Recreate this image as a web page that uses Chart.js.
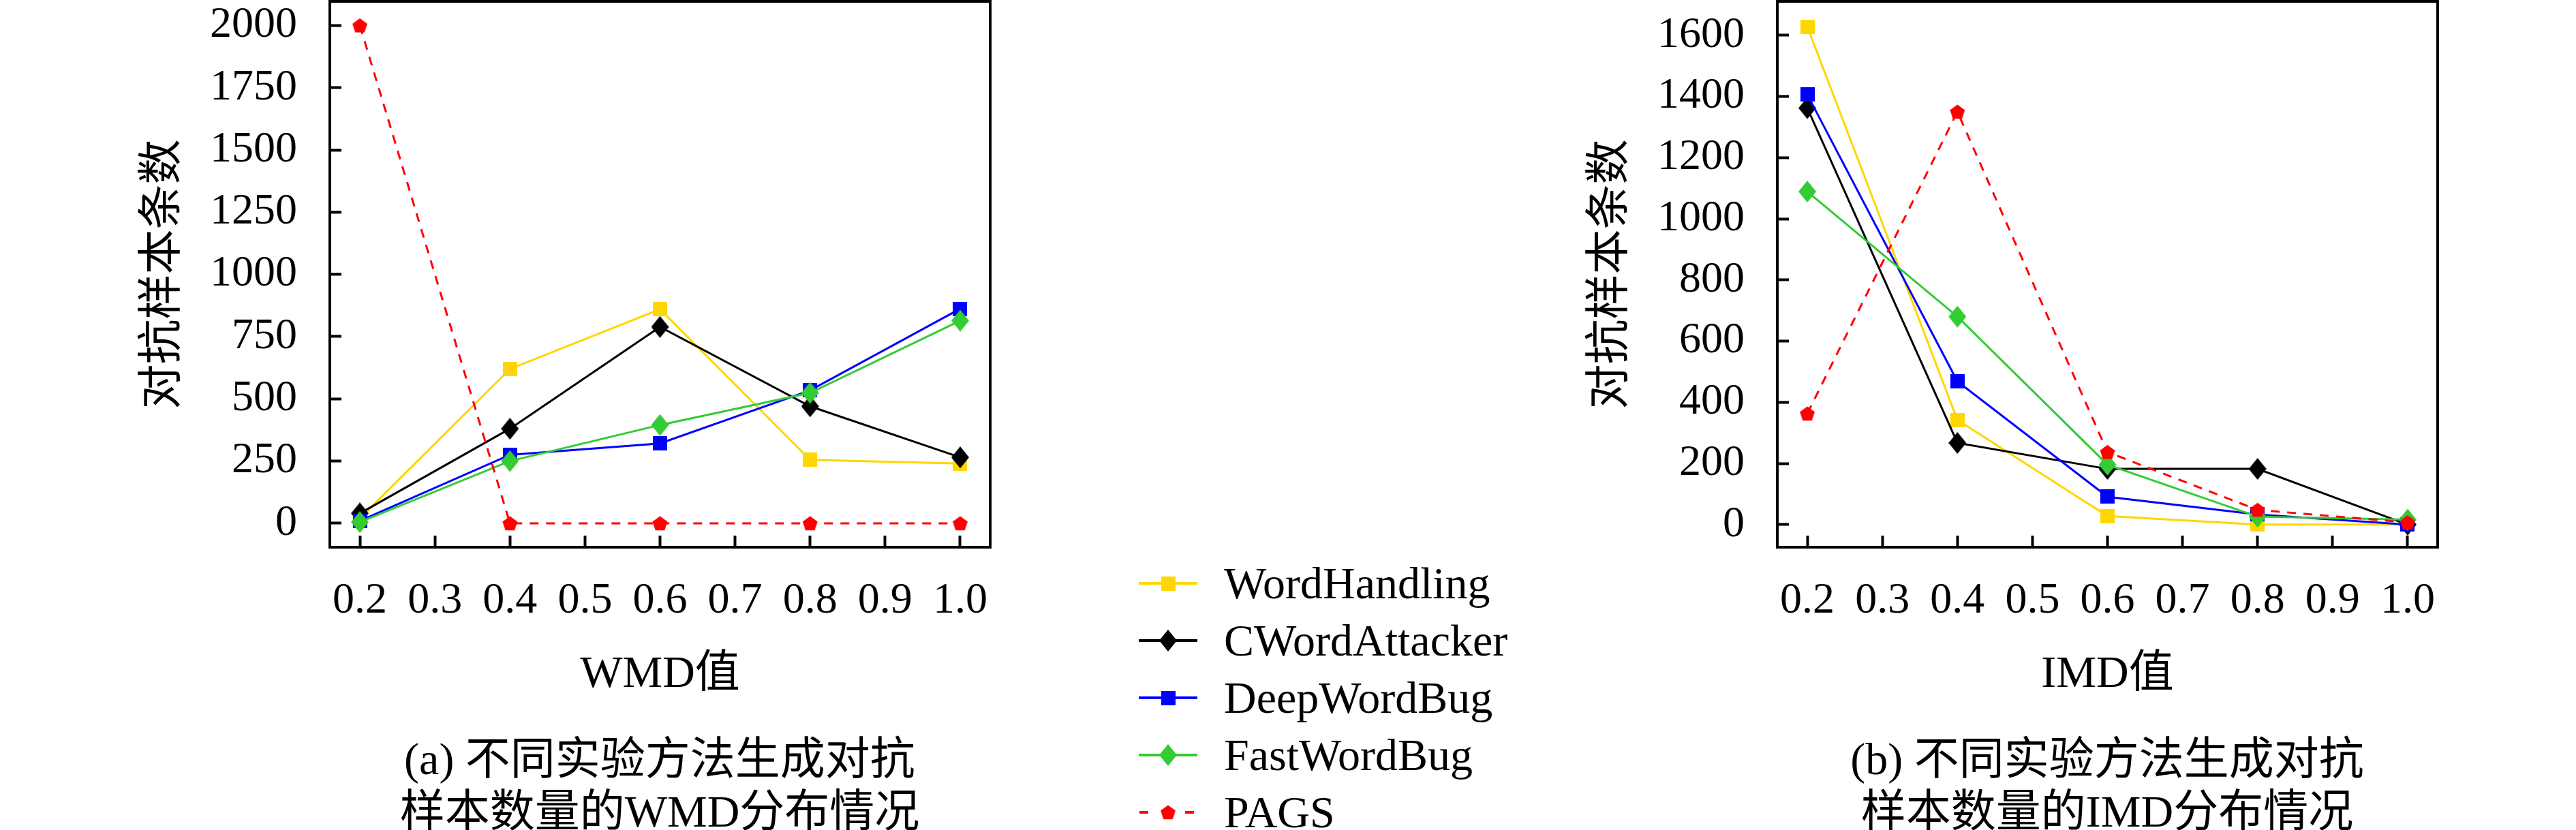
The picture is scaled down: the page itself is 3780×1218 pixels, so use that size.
<!DOCTYPE html>
<html><head><meta charset="utf-8">
<script src="https://cdn.jsdelivr.net/npm/chart.js@4.4.1/dist/chart.umd.min.js"></script>
<style>
html,body{margin:0;padding:0;background:#fff;}
body{width:3780px;height:1218px;position:relative;overflow:hidden;font-family:'Liberation Serif','Noto Sans CJK SC',serif;color:#000;}
.plot{position:absolute;top:0;}
.cap{position:absolute;width:1200px;text-align:center;font-size:66px;line-height:77px;white-space:nowrap;}
.leg{position:absolute;left:1669px;height:66px;width:700px;}
.leg canvas{position:absolute;left:0;top:15px;}
.leg span{position:absolute;left:127px;top:0;font-size:66px;line-height:66px;white-space:nowrap;}
</style></head>
<body>
<canvas id="cA" class="plot" width="1500" height="1060" style="left:0px"></canvas>
<canvas id="cB" class="plot" width="1500" height="1060" style="left:2124px"></canvas>
<div class="cap" lang="zh-CN" style="left:368px;top:1075px">(a) 不同实验方法生成对抗<br>样本数量的WMD分布情况</div>
<div class="cap" lang="zh-CN" style="left:2492px;top:1075px">(b) 不同实验方法生成对抗<br>样本数量的IMD分布情况</div>
<div id="legend"></div>
<script>
// ---------- data ----------
const xValues = [0.2, 0.4, 0.6, 0.8, 1.0];
const xTickValues = [0.2, 0.3, 0.4, 0.5, 0.6, 0.7, 0.8, 0.9, 1.0];
const yTicksWMD = [0, 250, 500, 750, 1000, 1250, 1500, 1750, 2000];
const yTicksIMD = [0, 200, 400, 600, 800, 1000, 1200, 1400, 1600];
const seriesNames = ['WordHandling', 'CWordAttacker', 'DeepWordBug', 'FastWordBug', 'PAGS'];

const wordHandlingWMD  = [20, 620, 860, 255, 240];
const cWordAttackerWMD = [40, 380, 789, 470, 265];
const deepWordBugWMD   = [10, 275, 321, 534, 862];
const fastWordBugWMD   = [5, 250, 395, 524, 814];
const pagsWMD          = [2000, 0, 0, 0, 0];

const wordHandlingIMD  = [1628, 342, 28, 0, 0];
const cWordAttackerIMD = [1362, 267, 182, 182, 0];
const deepWordBugIMD   = [1406, 468, 91, 33, 0];
const fastWordBugIMD   = [1089, 680, 196, 26, 16];
const pagsIMD          = [363, 1350, 237, 48, 7];

const xTitleWMD = 'WMD值';
const xTitleIMD = 'IMD值';
const yTitle = '对抗样本条数';

// ---------- styles ----------
const colors = ['#FFD700', '#000000', '#0000FF', '#33CC33', '#FF0000'];
const shapes = ['square', 'diamond', 'square', 'diamond', 'pentagon'];
const dashes = [[], [], [], [], [13, 11]];
const FAMILY = "'Liberation Serif', 'Noto Sans CJK SC', serif";

function makeMarker(shape, color) {
  const c = document.createElement('canvas');
  let w, h;
  if (shape === 'square') { w = 21; h = 21; }
  else if (shape === 'diamond') { w = 26; h = 32; }
  else { w = 23; h = 22; }
  c.width = w; c.height = h;
  const g = c.getContext('2d');
  g.fillStyle = color;
  g.beginPath();
  if (shape === 'square') g.rect(0, 0, w, h);
  else if (shape === 'diamond') { g.moveTo(w / 2, 0); g.lineTo(w, h / 2); g.lineTo(w / 2, h); g.lineTo(0, h / 2); }
  else {
    const R = 11.5, cx = w / 2, cy = 12;
    for (let i = 0; i < 5; i++) {
      const a = -Math.PI / 2 + i * 2 * Math.PI / 5;
      g.lineTo(cx + R * Math.cos(a), cy + R * Math.sin(a));
    }
  }
  g.closePath();
  g.fill();
  return c;
}
const markers = shapes.map((s, i) => makeMarker(s, colors[i]));

// ---------- legend ----------
const legend = document.getElementById('legend');
seriesNames.forEach((name, i) => {
  const row = document.createElement('div');
  row.className = 'leg';
  row.style.top = (856 + i * 84 - 33) + 'px';
  const ic = document.createElement('canvas');
  ic.width = 90; ic.height = 36;
  const g = ic.getContext('2d');
  g.strokeStyle = colors[i]; g.lineWidth = 4;
  g.beginPath();
  if (dashes[i].length) {
    g.moveTo(3, 18); g.lineTo(16, 18);
    g.moveTo(70, 18); g.lineTo(83, 18);
  } else {
    g.moveTo(2, 18); g.lineTo(88, 18);
  }
  g.stroke();
  const m = markers[i];
  g.drawImage(m, 45 - m.width / 2, 18 - m.height / 2);
  row.appendChild(ic);
  const sp = document.createElement('span');
  sp.textContent = name;
  row.appendChild(sp);
  legend.appendChild(row);
});

// ---------- charts ----------
const frame = {
  id: 'frame',
  afterDatasetsDraw(chart) {
    const { ctx, chartArea: a } = chart;
    ctx.save();
    ctx.strokeStyle = '#000';
    ctx.lineWidth = 4;
    ctx.strokeRect(a.left, a.top, a.right - a.left, a.bottom - a.top);
    ctx.restore();
  }
};

const CH = 1060, PLOT_BOTTOM = 803, PAD_BOTTOM = 30;

function zeroPad(s) { s.paddingTop = 0; s.paddingBottom = 0; s.paddingLeft = 0; s.paddingRight = 0; }

function makeChart(canvas, series, yTicks, yMin, yMax, xTitle) {
  return new Chart(canvas, {
    type: 'line',
    data: {
      datasets: series.map((s, i) => ({
        label: seriesNames[i],
        data: xValues.map((x, j) => ({ x: x, y: s[j] })),
        borderColor: colors[i],
        backgroundColor: colors[i],
        borderWidth: 3,
        borderDash: dashes[i],
        pointStyle: markers[i],
        pointRadius: 12,
        pointHoverRadius: 12,
        tension: 0,
        fill: false,
        order: series.length - 1 - i
      }))
    },
    options: {
      responsive: false,
      animation: false,
      devicePixelRatio: 1,
      events: [],
      layout: { autoPadding: false, padding: { left: 0, top: 2, right: 47, bottom: PAD_BOTTOM } },
      plugins: { legend: { display: false }, tooltip: { enabled: false } },
      scales: {
        x: {
          type: 'linear', min: 0.16, max: 1.04, bounds: 'data',
          afterBuildTicks: s => { s.ticks = xTickValues.map(v => ({ value: v })); },
          afterFit: s => { s.height = CH - PAD_BOTTOM - PLOT_BOTTOM; zeroPad(s); },
          ticks: { callback: v => Number(v).toFixed(1), font: { family: FAMILY, size: 64 }, color: '#000', padding: 58, maxRotation: 0, autoSkip: false },
          grid: { drawOnChartArea: false, tickLength: -17, tickWidth: 4, tickColor: '#000' },
          border: { display: false },
          title: { display: true, text: xTitle, font: { family: FAMILY, size: 66 }, color: '#000', padding: { top: 0, bottom: 0 } }
        },
        y: {
          type: 'linear', min: yMin, max: yMax, bounds: 'data',
          afterBuildTicks: s => { s.ticks = yTicks.map(v => ({ value: v })); },
          afterFit: s => { s.width = 484; zeroPad(s); },
          ticks: { callback: v => String(v), font: { family: FAMILY, size: 64 }, color: '#000', padding: 65, autoSkip: false },
          grid: { drawOnChartArea: false, tickLength: -17, tickWidth: 4, tickColor: '#000' },
          border: { display: false },
          title: { display: true, text: yTitle, font: { family: "'Noto Sans CJK SC', sans-serif", size: 66 }, color: '#000', padding: { top: 193, bottom: 0 } }
        }
      }
    },
    plugins: [frame]
  });
}

makeChart(document.getElementById('cA'),
  [wordHandlingWMD, cWordAttackerWMD, deepWordBugWMD, fastWordBugWMD, pagsWMD],
  yTicksWMD, -96, 2097, xTitleWMD);
makeChart(document.getElementById('cB'),
  [wordHandlingIMD, cWordAttackerIMD, deepWordBugIMD, fastWordBugIMD, pagsIMD],
  yTicksIMD, -74, 1711, xTitleIMD);
</script>
</body></html>
